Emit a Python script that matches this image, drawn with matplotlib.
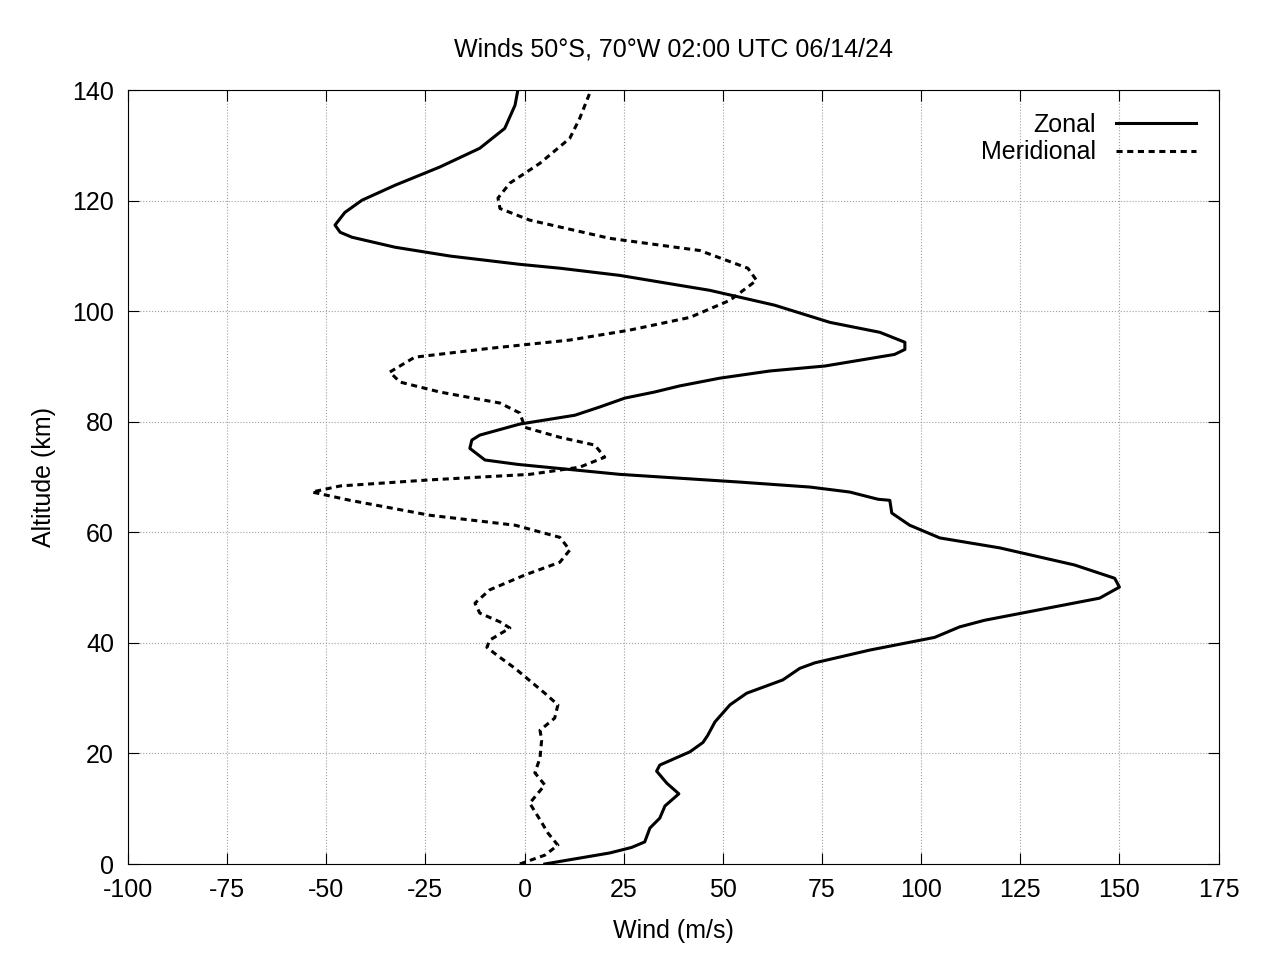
import matplotlib
matplotlib.use("Agg")
import matplotlib.pyplot as plt

plt.rcParams["font.family"] = ["Liberation Sans", "DejaVu Sans"]
plt.rcParams["axes.unicode_minus"] = False

zonal_alt = [0, 2, 3, 4, 6.5, 8.3, 10.5, 12.7, 14.6, 16.8, 17.9, 20.3, 22, 23.3, 25.7, 28.8, 30.9,
             33.3, 35.4, 36.4, 38.7, 41, 42.9, 44.1, 48.1, 50.1, 51.7, 54.1, 57.2, 59, 61.3, 63.5,
             65.8, 66, 67.3, 68.2, 69.1, 70.5, 72.3, 73.1, 75.2, 76.7, 77.6, 79.6, 81.2, 82.7, 84.3,
             85.4, 86.5, 87.9, 89.2, 90.1, 92.2, 93.1, 94.4, 96.2, 98, 101.1, 103.8, 104.7, 106.5,
             107.8, 108.5, 110, 111.6, 113.4, 114.3, 115.6, 117.9, 120.1, 122.8, 126.1, 129.5,
             133.1, 137.3, 140]
zonal = [5.1, 21.5, 27, 30.3, 31.6, 34.1, 35.4, 38.9, 35.9, 33.3, 34.1, 41.7, 45, 46.2, 48, 51.8, 56,
         65.1, 69.4, 73.2, 87, 103.4, 109.7, 116, 145, 150, 148.8, 138.7, 119.8, 104.7, 97.1, 92.6,
         92.1, 89.1, 82, 72, 54.3, 24, -1.7, -10, -13.8, -13.3, -11.3, -1.2, 12.7, 19, 25.3,
         32.8, 39.1, 49.2, 61.8, 75.7, 93.3, 95.9, 95.9, 89.6, 77, 63.1, 46.7, 39.1, 24,
         8.9, -1.2, -18.8, -32.7, -43.5, -46.5, -47.8, -45.3, -41, -32.7, -21.4, -11.3,
         -5, -2.4, -1.7]

merid_alt = [0, 1.6, 3.4, 5.6, 8, 11, 14.3, 16.5, 19.2, 22.4, 24.2, 26.4, 28.8, 30.9, 35.4, 37.8,
             39.2, 40.5, 42.7, 43.8, 45.4, 47.2, 49.6, 52.3, 54.6, 56.8, 59.1, 61.3, 63.1, 65.8,
             67.3, 68.4, 69.5, 70.5, 71.8, 73.6, 75.8, 77.2, 79, 81.6, 83.4, 85.4, 87.2, 89, 91.7,
             93.3, 94.8, 96.6, 98.9, 102, 105.6, 107.8, 111, 113.2, 116.5, 118.6, 120.5, 123.2,
             126.8, 131.3, 134.9, 139.6]
merid = [-1.2, 5.1, 8.4, 5.9, 3.9, 1.3, 5.1, 2.6, 3.9, 4.3, 3.9, 7.6, 8.4, 5.1, -2.4, -7,
         -9.5, -8.8, -3.7, -6.2, -11.3, -12.5, -8.8, 0.1, 8.9, 11.4, 8.9, -2.4, -23.9, -44,
         -53.6, -46.5, -23.9, 1.3, 13.9, 20.2, 17.7, 8.9, 0.1, -1.2, -6.2, -21.4, -31.4, -34, -27.7,
         -8.8, 11.4, 26.5, 41.7, 51.8, 58.5, 56.3, 44.2, 21.5, 1.3, -6.2, -6.7, -3.7,
         3.9, 11.4, 13.9, 16.5]

fig = plt.figure(figsize=(12.8, 9.6), dpi=100)
ax = fig.add_axes([0.1, 0.1, 0.852, 0.806])
ax.plot(zonal, zonal_alt, color="black", lw=2.2, label="Zonal")
ax.plot(merid, merid_alt, color="black", lw=2.2, ls=(0, (2, 1.5)), label="Meridional")
ax.set_xlim(-100, 175)
ax.set_ylim(0, 140)
ax.set_xticks(range(-100, 176, 25))
ax.set_yticks(range(0, 141, 20))
ax.grid(True, color="#a0a0a0", ls=":", lw=0.8)
ax.tick_params(direction="in", labelsize=18, length=8, top=True, right=True, pad=10)
ax.set_xlabel("Wind (m/s)", fontsize=18, labelpad=12)
ax.set_ylabel("Altitude (km)", fontsize=18, labelpad=12)
ax.set_title("Winds 50°S, 70°W 02:00 UTC 06/14/24", fontsize=18, pad=24)
ax.legend(loc="upper right", frameon=False, fontsize=18, markerfirst=False,
          handlelength=3.2, borderaxespad=0.5, labelspacing=0.15)
fig.savefig("out.png")
